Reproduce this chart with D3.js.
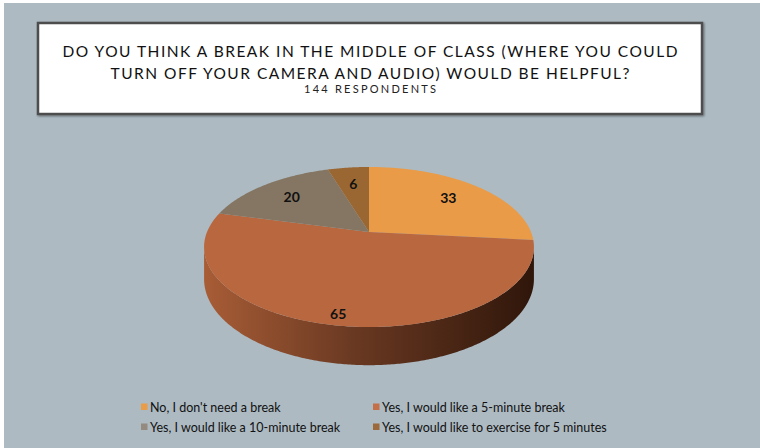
<!DOCTYPE html>
<html>
<head>
<meta charset="utf-8">
<script src="https://cdn.jsdelivr.net/npm/d3@7"></script>
<style>
  html, body { margin: 0; padding: 0; background: #fff; }
  svg { display: block; }
</style>
</head>
<body>
<svg id="chart" width="760" height="448"></svg>
<script>
"use strict";

// chart data
const titleLines = ["DO YOU THINK A BREAK IN THE MIDDLE OF CLASS (WHERE YOU COULD",
                    "TURN OFF YOUR CAMERA AND AUDIO) WOULD BE HELPFUL?"];
const subtitle = "144 RESPONDENTS";
const categories = ["No, I don't need a break",
                    "Yes, I would like a 5-minute break",
                    "Yes, I would like a 10-minute break",
                    "Yes, I would like to exercise for 5 minutes"];
const counts = [33, 65, 20, 6];
const sliceColors = ["#e99b48", "#b8673f", "#847662", "#9a6733"];
const legendColors = ["#eb9c47", "#c46f48", "#948a7f", "#9c6a3a"];

// pie geometry (perspective ellipse)
const cx = 369, cy = 232;
const R = 162, RY = 77.2, K = 0.1875, depth = 31;

function project(phi, r, bottom) {
    let x = Math.sin(phi) * r;
    let z = -Math.cos(phi) * r;
    let s = 1 / (1 - K * z);
    return [cx + R * x * s, cy + (RY * z + (bottom ? depth : 0)) * s];
}

function arcPoints(a0, a1, r, bottom) {
    let n = Math.max(2, Math.ceil((a1 - a0) / 0.01));
    return d3.range(n + 1).map(i => project(a0 + (a1 - a0) * i / n, r, bottom));
}

const svg = d3.select("#chart");
const defs = svg.append("defs");

svg.append("rect")
    .attr("x", 4).attr("y", 3)
    .attr("width", 756).attr("height", 445)
    .attr("fill", "#adbac2");

// title box
const shadow = defs.append("filter").attr("id", "shadow")
    .attr("x", "-5%").attr("y", "-5%").attr("width", "110%").attr("height", "120%");
shadow.append("feDropShadow")
    .attr("dx", 1).attr("dy", 1).attr("stdDeviation", 1)
    .attr("flood-color", "#000").attr("flood-opacity", 0.45);

svg.append("rect")
    .attr("x", 38).attr("y", 23)
    .attr("width", 664).attr("height", 91)
    .attr("fill", "#fff")
    .attr("stroke", "#4d4d4d")
    .attr("stroke-width", 2.5)
    .attr("filter", "url(#shadow)");

const titleWidths = [615, 519];
svg.selectAll("text.title")
    .data(titleLines)
    .join("text")
    .attr("class", "title")
    .attr("x", 370)
    .attr("y", (d, i) => 57 + i * 22)
    .attr("text-anchor", "middle")
    .attr("textLength", (d, i) => titleWidths[i])
    .attr("lengthAdjust", "spacing")
    .style("font-family", "Lato, 'Open Sans', sans-serif")
    .style("font-size", "15.5px")
    .style("fill", "#111")
    .text(d => d);

svg.append("text")
    .attr("x", 370).attr("y", 93)
    .attr("text-anchor", "middle")
    .attr("textLength", 132)
    .attr("lengthAdjust", "spacing")
    .style("font-family", "Lato, 'Open Sans', sans-serif")
    .style("font-size", "11px")
    .style("fill", "#222")
    .text(subtitle);

// pie
const pie = d3.pie().sort(null).startAngle(0).endAngle(2 * Math.PI);
const arcs = pie(counts);

const wallGrad = defs.append("linearGradient")
    .attr("id", "wall")
    .attr("gradientUnits", "userSpaceOnUse")
    .attr("x1", cx - R * 1.02).attr("x2", cx + R * 1.02)
    .attr("y1", 0).attr("y2", 0);
wallGrad.selectAll("stop")
    .data([[0, "#a85d36"], [0.45, "#6a3922"], [1, "#2f160a"]])
    .join("stop")
    .attr("offset", d => d[0])
    .attr("stop-color", d => d[1]);

const visFrom = Math.acos(-K), visTo = 2 * Math.PI - Math.acos(-K);
const line = d3.line();

// side walls (front part only)
svg.append("g").selectAll("path")
    .data(arcs.filter(a => a.endAngle > visFrom && a.startAngle < visTo))
    .join("path")
    .attr("d", a => {
        let a0 = Math.max(a.startAngle, visFrom), a1 = Math.min(a.endAngle, visTo);
        let pts = arcPoints(a0, a1, 1, false).concat(arcPoints(a0, a1, 1, true).reverse());
        return line(pts) + "Z";
    })
    .attr("fill", "url(#wall)");

// top faces
svg.append("g").selectAll("path")
    .data(arcs)
    .join("path")
    .attr("d", a => line([project(0, 0, false)].concat(arcPoints(a.startAngle, a.endAngle, 1, false))) + "Z")
    .attr("fill", (a, i) => sliceColors[i]);

// data labels
svg.append("g").selectAll("text")
    .data(arcs)
    .join("text")
    .attr("transform", a => {
        let mid = (a.startAngle + a.endAngle) / 2;
        let r = (a.endAngle - a.startAngle) > Math.PI ? 0.9 : 0.72;
        let p = project(mid, r, false);
        return `translate(${p[0]},${p[1] + 5})`;
    })
    .attr("text-anchor", "middle")
    .style("font-family", "Lato, 'Open Sans', sans-serif")
    .style("font-weight", "bold")
    .style("font-size", "14px")
    .style("fill", "#111")
    .text(a => a.data);

// legend
const legendX = d3.scaleOrdinal().domain([0, 1]).range([141, 373]);
const legendY = d3.scaleOrdinal().domain([0, 1]).range([407, 427]);

const item = svg.append("g").selectAll("g")
    .data(categories)
    .join("g")
    .attr("transform", (d, i) => `translate(${legendX(i % 2)},${legendY(Math.floor(i / 2))})`);

item.append("rect")
    .attr("x", 0).attr("y", -3.5)
    .attr("width", 6.5).attr("height", 6.5)
    .attr("fill", (d, i) => legendColors[i]);

item.append("text")
    .attr("x", 9).attr("y", 4.5)
    .style("font-family", "Lato, 'Open Sans', sans-serif")
    .style("font-size", "12.5px")
    .style("fill", "#111")
    .text(d => d);
</script>
</body>
</html>
